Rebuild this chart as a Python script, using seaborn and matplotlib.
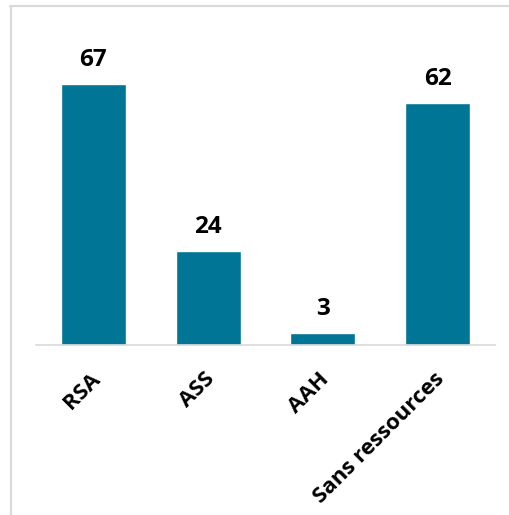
import matplotlib
matplotlib.use("Agg")
import matplotlib.pyplot as plt
import matplotlib.transforms as mtransforms
import seaborn as sns
import pandas as pd
from matplotlib.lines import Line2D

categories = ["RSA", "ASS", "AAH", "Sans ressources"]
values = [67, 24, 3, 62]

sns.set_theme(style="white")
plt.rcParams['font.family'] = ['Open Sans', 'DejaVu Sans']

W, H = 510, 515
fig = plt.figure(figsize=(W / 100, H / 100), dpi=100)
ax = fig.add_axes([36 / W, (H - 345) / H, (495 - 36) / W, (345 - 33.3) / H])

df = pd.DataFrame({"cat": categories, "val": values})
sns.barplot(data=df, x="cat", y="val", color="#007596", saturation=1,
            width=0.567, ax=ax)
ax.set_xlim(-0.5, 3.5)
ax.set_ylim(0, 80)
ax.set_xlabel("")
ax.set_ylabel("")
ax.set_yticks([])
for s in ["top", "right", "left"]:
    ax.spines[s].set_visible(False)
ax.spines["bottom"].set_color("#d9d9d9")
ax.spines["bottom"].set_linewidth(1.2)
ax.tick_params(axis="x", length=0, pad=17)
shift = mtransforms.ScaledTranslation(-4 / 100, 0, fig.dpi_scale_trans)
for lab in ax.get_xticklabels():
    lab.set_rotation(45)
    lab.set_ha("right")
    lab.set_rotation_mode("anchor")
    lab.set_fontsize(16)
    lab.set_fontweight("bold")
    lab.set_color("black")
    lab.set_transform(lab.get_transform() + shift)

for i, v in enumerate(values):
    ax.annotate(str(v), (i, v), xytext=(0, 13), textcoords="offset points",
                ha="center", va="baseline", fontsize=17.5, fontweight="bold",
                color="black")

fig.add_artist(Line2D([10 / W, 1], [1 - 6 / H, 1 - 6 / H],
                      transform=fig.transFigure, color="#d9d9d9", lw=1.5))
fig.add_artist(Line2D([11 / W, 11 / W], [0, 1 - 6 / H],
                      transform=fig.transFigure, color="#d9d9d9", lw=1.5))

fig.savefig("out.png", dpi=100, facecolor="white")
